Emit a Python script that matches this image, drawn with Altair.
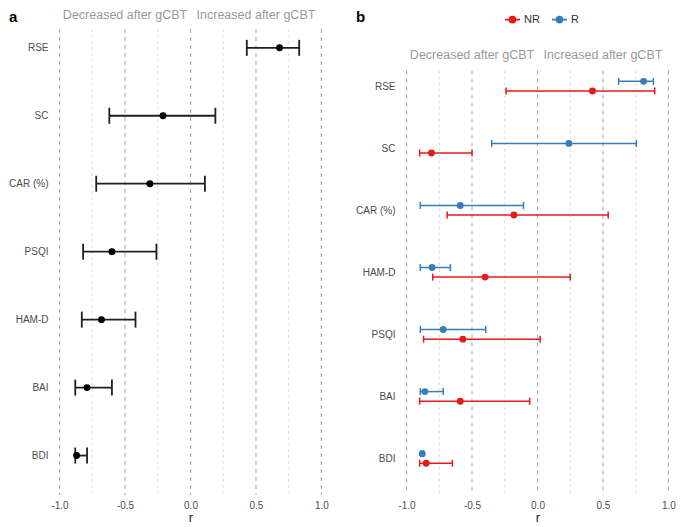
import altair as alt
import pandas as pd

FONT = "Liberation Sans"

# ---------------- data ----------------
# Panel a (all participants)
measures_a = ["RSE", "SC", "CAR (%)", "PSQI", "HAM-D", "BAI", "BDI"]
r_a = [0.68, -0.21, -0.31, -0.60, -0.68, -0.79, -0.87]
lo_a = [0.43, -0.62, -0.72, -0.82, -0.83, -0.88, -0.88]
hi_a = [0.83, 0.19, 0.11, -0.26, -0.42, -0.60, -0.79]

# Panel b (responders R / non-responders NR)
measures_b = ["RSE", "SC", "CAR (%)", "HAM-D", "PSQI", "BAI", "BDI"]
groups = ["NR", "R"]
r_R = [0.81, 0.24, -0.59, -0.805, -0.72, -0.86, -0.88]
lo_R = [0.62, -0.35, -0.895, -0.895, -0.895, -0.895, -0.89]
hi_R = [0.885, 0.755, -0.107, -0.665, -0.395, -0.72, -0.87]
r_NR = [0.42, -0.81, -0.18, -0.40, -0.57, -0.59, -0.85]
lo_NR = [-0.24, -0.90, -0.69, -0.80, -0.87, -0.90, -0.90]
hi_NR = [0.895, -0.50, 0.54, 0.25, 0.02, -0.06, -0.65]

major_ticks = [-1.0, -0.5, 0.0, 0.5, 1.0]
minor_ticks = [-0.75, -0.25, 0.25, 0.75]
header_text = ["Decreased after gCBT", "Increased after gCBT"]
header_x = [-0.5, 0.5]
panel_tags = ["a", "b"]
group_colors = ["#E41A1C", "#377EB8"]

# ---------------- tables ----------------
df_a = pd.DataFrame({"measure": measures_a, "r": r_a, "lo": lo_a, "hi": hi_a})
df_b = pd.concat([
    pd.DataFrame({"measure": measures_b, "group": "R", "r": r_R, "lo": lo_R, "hi": hi_R}),
    pd.DataFrame({"measure": measures_b, "group": "NR", "r": r_NR, "lo": lo_NR, "hi": hi_NR}),
], ignore_index=True)
df_major = pd.DataFrame({"v": major_ticks})
df_minor = pd.DataFrame({"v": minor_ticks})
df_head = pd.DataFrame({"ht": header_text, "hx": header_x})

W, H = 275, 466
xscale = alt.Scale(domain=[-1.05, 1.05], nice=False, zero=False)
xaxis = alt.Axis(
    values=major_ticks, grid=False, domain=False, ticks=False,
    labelExpr="datum.value < 0 ? '-' + format(-datum.value, '.1f') : format(datum.value, '.1f')",
    labelColor="#4d4d4d", labelFontSize=10, labelFont=FONT, labelPadding=5,
    title="r", titleFont=FONT, titleFontSize=13, titleFontWeight="normal",
    titleColor="#1a1a1a", titlePadding=1,
)
yaxis = alt.Axis(title=None, domain=False, ticks=False, grid=False,
                 labelColor="#4d4d4d", labelFontSize=10, labelFont=FONT, labelPadding=5)


def X(field):
    return alt.X(field, scale=xscale, axis=xaxis)


def grid_layers(y_top=None):
    def enc():
        e = dict(x=X("v:Q"))
        if y_top is not None:
            e["y"] = alt.value(y_top)
            e["y2"] = alt.value(H)
        return e
    major = alt.Chart(df_major).mark_rule(color="#ababab", strokeDash=[4, 4], strokeWidth=1.1).encode(**enc())
    minor = alt.Chart(df_minor).mark_rule(color="#d8d8d8", strokeDash=[3, 3], strokeWidth=0.9).encode(**enc())
    return [major, minor]


def header_layer(y):
    return alt.Chart(df_head).mark_text(
        font=FONT, fontSize=12.5, color="#9a9a9a", baseline="middle", align="center"
    ).encode(x=X("hx:Q"), text="ht:N", y=alt.value(y))


def tag_layer(tag):
    return alt.Chart(pd.DataFrame({"t": [tag]})).mark_text(
        font=FONT, fontSize=15, fontWeight="bold", color="black", baseline="top", align="left"
    ).encode(text="t:N", x=alt.value(-44), y=alt.value(-19.5))


# ---------------- panel a ----------------
ya = alt.Y("measure:N", scale=alt.Scale(type="point", domain=measures_a, padding=0.4286, align=0.3228), axis=yaxis)
ink = "#1f1f1f"
bars_a = alt.Chart(df_a).mark_rule(color=ink, strokeWidth=1.8).encode(x=X("lo:Q"), x2="hi:Q", y=ya)
capl_a = alt.Chart(df_a).mark_tick(color=ink, thickness=1.8, size=16, opacity=1).encode(x=X("lo:Q"), y=ya)
caph_a = alt.Chart(df_a).mark_tick(color=ink, thickness=1.8, size=16, opacity=1).encode(x=X("hi:Q"), y=ya)
pts_a = alt.Chart(df_a).mark_point(filled=True, color="black", size=48, opacity=1).encode(x=X("r:Q"), y=ya)

panel_a = alt.layer(*grid_layers(), header_layer(-14.5), tag_layer(panel_tags[0]),
                    bars_a, capl_a, caph_a, pts_a).properties(width=W, height=H)

# ---------------- panel b ----------------
yb = alt.Y("measure:N", scale=alt.Scale(type="point", domain=measures_b, padding=0.755, align=0.61), axis=yaxis)
yoff = alt.YOffset("group:N", scale=alt.Scale(type="point", domain=["R", "NR"], range=[-4.8, 4.8], padding=0))
cscale = alt.Scale(domain=groups, range=group_colors)
legend_path = "M-1,0L1,0M-0.4,0A0.4,0.4,0,1,1,0.4,0A0.4,0.4,0,1,1,-0.4,0Z"
leg = alt.Legend(title=None, orient="none", legendX=104, legendY=-18, direction="horizontal",
                 symbolType=legend_path, symbolSize=225, symbolStrokeWidth=1.6, symbolOpacity=1,
                 labelFont=FONT, labelFontSize=11, labelColor="#333333", labelOffset=3,
                 columnPadding=8)

bars_b = alt.Chart(df_b).mark_rule(strokeWidth=1.5).encode(
    x=X("lo:Q"), x2="hi:Q", y=yb, yOffset=yoff,
    color=alt.Color("group:N", scale=cscale, legend=leg))
capl_b = alt.Chart(df_b).mark_tick(thickness=1.5, size=7, opacity=1).encode(
    x=X("lo:Q"), y=yb, yOffset=yoff, color=alt.Color("group:N", scale=cscale, legend=None))
caph_b = alt.Chart(df_b).mark_tick(thickness=1.5, size=7, opacity=1).encode(
    x=X("hi:Q"), y=yb, yOffset=yoff, color=alt.Color("group:N", scale=cscale, legend=None))
pts_b = alt.Chart(df_b).mark_point(filled=True, size=48, opacity=1).encode(
    x=X("r:Q"), y=yb, yOffset=yoff, color=alt.Color("group:N", scale=cscale, legend=None))

panel_b = alt.layer(*grid_layers(41.5), header_layer(26), tag_layer(panel_tags[1]),
                    bars_b, capl_b, caph_b, pts_b).properties(width=W, height=H)

chart = alt.hconcat(panel_a, panel_b, spacing=72, bounds="flush").resolve_scale(
    color="independent"
).properties(padding=0).configure(font=FONT).configure_view(stroke=None)

chart.save("out.html", embed_options={"renderer": "svg", "actions": False})
